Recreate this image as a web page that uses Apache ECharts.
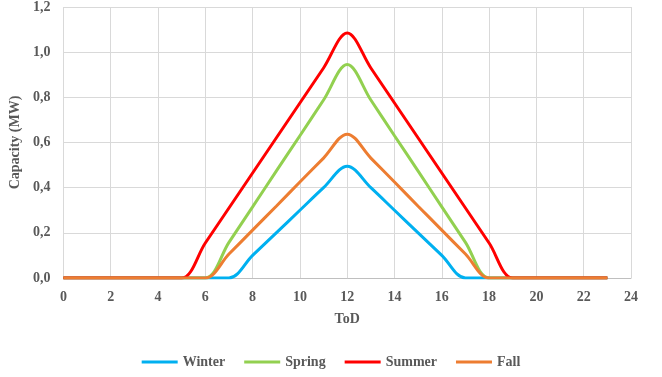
<!DOCTYPE html>
<html>
<head>
<meta charset="utf-8">
<script src="https://cdn.jsdelivr.net/npm/echarts@6/dist/echarts.min.js"></script>
<style>
  html, body { margin: 0; padding: 0; background: #fff; }
  #chart { width: 662px; height: 377px; }
</style>
</head>
<body>
<div id="chart"></div>
<script>
// Hour of day (ToD)
const hours = [0,1,2,3,4,5,6,7,8,9,10,11,12,13,14,15,16,17,18,19,20,21,22,23];

// Seasonal capacity profiles, MW
const winter = [0,0,0,0,0,0,0,0,0.10,0.20,0.30,0.40,0.495,0.40,0.30,0.20,0.10,0,0,0,0,0,0,0];
const spring = [0,0,0,0,0,0,0,0.158,0.315,0.473,0.63,0.788,0.945,0.788,0.63,0.473,0.315,0.158,0,0,0,0,0,0];
const summer = [0,0,0,0,0,0,0.155,0.31,0.465,0.62,0.775,0.93,1.085,0.93,0.775,0.62,0.465,0.31,0.155,0,0,0,0,0];
const fall   = [0,0,0,0,0,0,0,0.106,0.212,0.318,0.425,0.531,0.637,0.531,0.425,0.318,0.212,0.106,0,0,0,0,0,0];

const seriesNames = ['Winter', 'Spring', 'Summer', 'Fall'];
const seriesColors = ['#00b0f0', '#92d050', '#ff0000', '#ed7d31'];
const seriesValues = [winter, spring, summer, fall];

const FONT = '"Liberation Serif", "Times New Roman", serif';
const TEXT = '#595959';

const chart = echarts.init(document.getElementById('chart'), null, { renderer: 'canvas' });

chart.setOption({
  animation: false,
  backgroundColor: '#ffffff',
  grid: { left: 63, right: 31, top: 7, bottom: 99, containLabel: false },
  legend: {
    data: seriesNames,
    bottom: 3,
    left: 'center',
    icon: 'rect',
    itemWidth: 36,
    itemHeight: 3,
    itemGap: 19,
    textStyle: { fontFamily: FONT, fontWeight: 'bold', fontSize: 14, color: TEXT }
  },
  xAxis: {
    type: 'value',
    min: 0, max: 24, interval: 2,
    name: 'ToD',
    nameLocation: 'middle',
    nameGap: 34,
    nameTextStyle: { fontFamily: FONT, fontWeight: 'bold', fontSize: 14, color: TEXT },
    axisLine: { show: true, lineStyle: { color: '#bfbfbf', width: 1 } },
    axisTick: { show: false },
    axisLabel: { fontFamily: FONT, fontWeight: 'bold', fontSize: 14, color: TEXT, margin: 12 },
    splitLine: { show: true, lineStyle: { color: '#d9d9d9', width: 1 } }
  },
  yAxis: {
    type: 'value',
    min: 0, max: 1.2, interval: 0.2,
    name: 'Capacity (MW)',
    nameLocation: 'middle',
    nameGap: 36,
    nameTextStyle: { fontFamily: FONT, fontWeight: 'bold', fontSize: 14, color: TEXT },
    axisLine: { show: false },
    axisTick: { show: false },
    axisLabel: {
      fontFamily: FONT, fontWeight: 'bold', fontSize: 14, color: TEXT, margin: 13,
      formatter: v => v.toFixed(1).replace('.', ',')
    },
    splitLine: { show: true, lineStyle: { color: '#d9d9d9', width: 1 } }
  },
  series: seriesNames.map((name, i) => ({
    name: name,
    type: 'line',
    smooth: 0.35,
    showSymbol: false,
    symbol: 'none',
    color: seriesColors[i],
    lineStyle: { width: 3, color: seriesColors[i] },
    data: hours.map((h, j) => [h, seriesValues[i][j]])
  }))
});
</script>
</body>
</html>
